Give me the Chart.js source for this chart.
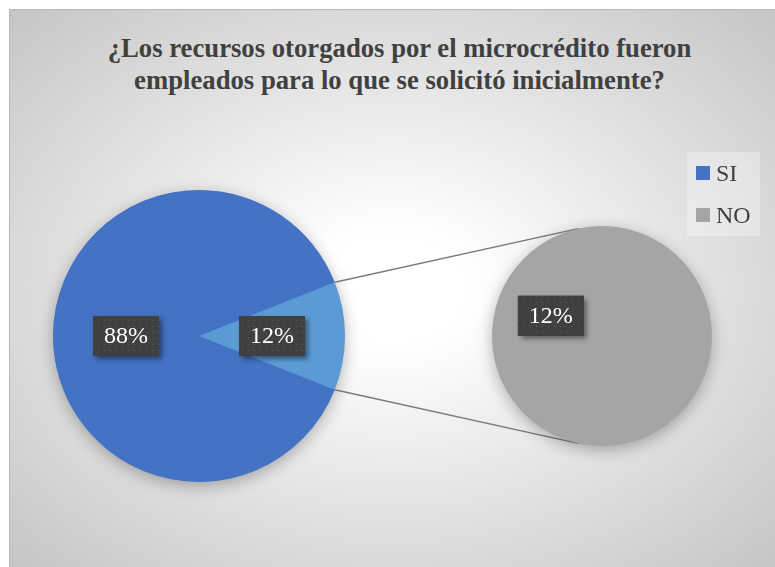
<!DOCTYPE html>
<html><head><meta charset="utf-8">
<script src="https://cdn.jsdelivr.net/npm/chart.js@4.4.0/dist/chart.umd.min.js"></script>
<style>
html,body{margin:0;padding:0;background:#fff;}
#wrap{position:relative;width:775px;height:567px;overflow:hidden;background:#fff;}
#bg{position:absolute;left:9px;top:9px;width:766px;height:558px;box-sizing:border-box;border-left:1px solid #b8b8b8;border-top:1px solid #b8b8b8;
 background:radial-gradient(ellipse farthest-corner at 50% 50%, #ffffff 0%, #ffffff 14%, #c5c5c5 100%);}
#title{position:absolute;left:0;top:32px;width:799px;text-align:center;font-family:'Liberation Serif','Times New Roman',serif;font-weight:bold;font-size:26.7px;color:#404040;line-height:32px;}
canvas{position:absolute;left:0;top:0;}
#legend{position:absolute;left:687px;top:152px;width:73px;height:84px;background:rgba(255,255,255,0.3);}
.li{position:absolute;left:9px;height:30px;font-family:'Liberation Serif','Times New Roman',serif;font-size:24px;color:#404040;line-height:30px;white-space:nowrap;}
.li span.m{display:inline-block;width:14px;height:14px;vertical-align:middle;margin-right:6px;position:relative;top:-2px;}
</style></head>
<body>
<div id="wrap">
 <div id="bg"></div>
 <div id="title"></div>
 <canvas id="main" width="775" height="567"></canvas>
 <canvas id="sub" width="775" height="567"></canvas>
 <div id="legend"></div>
</div>
<script>
// ---- data ----
const titleLines = ['¿Los recursos otorgados por el microcrédito fueron', 'empleados para lo que se solicitó inicialmente?'];
const categories = ['SI', 'NO'];
const values = [88, 12];
// main pie: SI plus the aggregated "other" slice (which holds NO)
const mainLabels = ['SI', 'Otro'];
const mainValues = [88, 12];
// secondary pie: breakdown of the "other" slice
const subLabels = ['NO'];
const subValues = [12];

// ---- styles ----
const SERIF = '"Liberation Serif", "Times New Roman", serif';
const legendColors = ['#4472C4', '#A5A5A5'];
const mainColors = ['#4472C4', '#5B9BD5'];
const subColors = ['#A5A5A5'];
const total = values.reduce((a, b) => a + b, 0);

document.getElementById('title').innerHTML = titleLines.join('<br>');
const leg = document.getElementById('legend');
categories.forEach((c, i) => {
  const d = document.createElement('div');
  d.className = 'li';
  d.style.top = (6 + i * 42) + 'px';
  d.innerHTML = '<span class="m" style="background:' + legendColors[i] + '"></span>' + c;
  leg.appendChild(d);
});

// dotted pattern for label boxes
const pc = document.createElement('canvas');
pc.width = 6; pc.height = 6;
const pctx = pc.getContext('2d');
pctx.fillStyle = '#404040'; pctx.fillRect(0, 0, 6, 6);
pctx.fillStyle = '#5a5a5a'; pctx.fillRect(2, 2, 1, 1);

const pieShadow = {
  id: 'pieShadow',
  beforeDatasetsDraw(chart) {
    const a = chart.getDatasetMeta(0).data[0];
    if (!a) return;
    const ctx = chart.ctx;
    ctx.save();
    ctx.shadowColor = 'rgba(0,0,0,0.3)';
    ctx.shadowBlur = 16;
    ctx.shadowOffsetY = 4;
    ctx.fillStyle = chart.data.datasets[0].backgroundColor[0];
    ctx.beginPath();
    ctx.arc(a.x, a.y, a.outerRadius - 0.5, 0, Math.PI * 2);
    ctx.fill();
    ctx.restore();
  }
};

const labelBoxes = {
  id: 'labelBoxes',
  afterDatasetsDraw(chart) {
    const ctx = chart.ctx;
    const ds = chart.data.datasets[0];
    chart.getDatasetMeta(0).data.forEach((a, i) => {
      const mid = (a.startAngle + a.endAngle) / 2;
      const r = a.outerRadius / 2;
      const x = a.x + Math.cos(mid) * r;
      const y = a.y + Math.sin(mid) * r;
      const txt = Math.round(ds.data[i] / total * 100) + '%';
      const w = 66, h = 40;
      ctx.save();
      ctx.shadowColor = 'rgba(0,0,0,0.45)';
      ctx.shadowBlur = 5;
      ctx.shadowOffsetX = 3;
      ctx.shadowOffsetY = 3;
      ctx.fillStyle = '#404040';
      ctx.fillRect(x - w / 2, y - h / 2, w, h);
      ctx.restore();
      ctx.save();
      ctx.fillStyle = ctx.createPattern(pc, 'repeat');
      ctx.fillRect(x - w / 2, y - h / 2, w, h);
      ctx.fillStyle = '#ffffff';
      ctx.font = '24px ' + SERIF;
      ctx.textAlign = 'center';
      ctx.textBaseline = 'middle';
      ctx.fillText(txt, x, y + 1);
      ctx.restore();
    });
  }
};

const common = {
  responsive: false,
  animation: false,
  devicePixelRatio: 1,
  plugins: { legend: { display: false }, tooltip: { enabled: false }, title: { display: false } },
  rotation: 111.6
};

const mainChart = new Chart(document.getElementById('main'), {
  type: 'pie',
  data: { labels: mainLabels, datasets: [{ data: mainValues, backgroundColor: mainColors, borderWidth: 0 }] },
  options: Object.assign({}, common, { layout: { padding: { left: 53, top: 190, right: 430, bottom: 85 } } }),
  plugins: [pieShadow, labelBoxes]
});

const connectors = {
  id: 'connectors',
  beforeDatasetsDraw(chart) {
    const m = mainChart.getDatasetMeta(0).data[1];
    const s = chart.getDatasetMeta(0).data[0];
    if (!m || !s) return;
    const off = 12.5 * Math.PI / 180;
    const p1 = [m.x + Math.cos(m.startAngle) * m.outerRadius, m.y + Math.sin(m.startAngle) * m.outerRadius];
    const p2 = [m.x + Math.cos(m.endAngle) * m.outerRadius, m.y + Math.sin(m.endAngle) * m.outerRadius];
    const q1 = [s.x + Math.cos(-Math.PI / 2 - off) * s.outerRadius, s.y + Math.sin(-Math.PI / 2 - off) * s.outerRadius];
    const q2 = [s.x + Math.cos(Math.PI / 2 + off) * s.outerRadius, s.y + Math.sin(Math.PI / 2 + off) * s.outerRadius];
    const ctx = chart.ctx;
    ctx.save();
    ctx.strokeStyle = '#7a7a7a';
    ctx.lineWidth = 1.5;
    ctx.beginPath();
    ctx.moveTo(p1[0], p1[1]); ctx.lineTo(q1[0], q1[1]);
    ctx.moveTo(p2[0], p2[1]); ctx.lineTo(q2[0], q2[1]);
    ctx.stroke();
    ctx.restore();
  }
};

const subChart = new Chart(document.getElementById('sub'), {
  type: 'pie',
  data: { labels: subLabels, datasets: [{ data: subValues, backgroundColor: subColors, borderWidth: 0 }] },
  options: Object.assign({}, common, { layout: { padding: { left: 492, top: 226, right: 63, bottom: 121 } } }),
  plugins: [connectors, pieShadow, labelBoxes]
});
</script>
</body></html>
